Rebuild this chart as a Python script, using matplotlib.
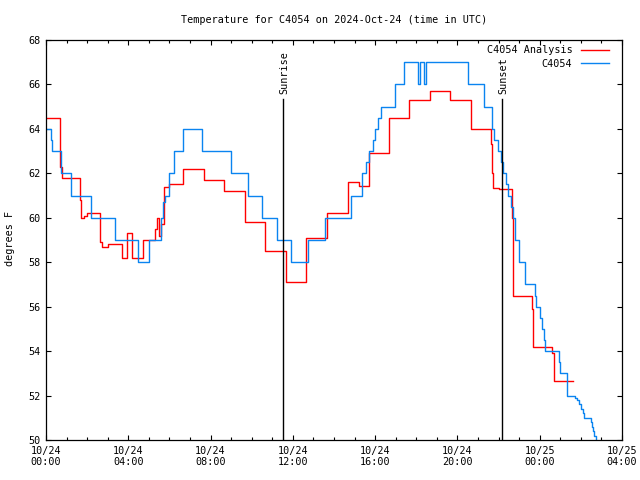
import matplotlib
matplotlib.use('Agg')
import matplotlib.pyplot as plt
from matplotlib.ticker import MultipleLocator

plt.rcParams['font.family'] = ['DejaVu Sans Mono']
plt.rcParams['font.size'] = 7.3

# observed temperature C4054 (hours since 10/24 00:00 UTC, degrees F), step changes
obs_hours = [0.0, 0.23, 0.3, 0.75, 1.2, 2.17, 3.33, 4.45, 5.0, 5.57, 5.68, 5.8, 6.0, 6.2,
             6.68, 7.6, 9.0, 9.84, 10.5, 11.25, 11.93, 12.75, 13.58, 14.83, 15.38, 15.55,
             15.72, 15.88, 16.0, 16.15, 16.3, 16.95, 17.4, 18.07, 18.18, 18.36, 18.48,
             20.5, 21.3, 21.66, 21.8, 21.98, 22.12, 22.2, 22.35, 22.45, 22.6, 22.68, 22.78,
             22.82, 22.98, 23.0, 23.3, 23.75, 23.82, 24.0, 24.1, 24.22, 24.27, 24.95, 25.0,
             25.33, 25.7, 25.8, 25.9, 26.0, 26.1, 26.17, 26.5, 26.55, 26.6, 26.65, 26.72]
obs_temps = [64.0, 63.5, 63.0, 62.0, 61.0, 60.0, 59.0, 58.0, 59.0, 60.0, 60.7, 61.0, 62.0, 63.0,
             64.0, 63.0, 62.0, 61.0, 60.0, 59.0, 58.0, 59.0, 60.0, 61.0, 62.0, 62.5,
             63.0, 63.5, 64.0, 64.5, 65.0, 66.0, 67.0, 66.0, 67.0, 66.0, 67.0,
             66.0, 65.0, 64.0, 63.5, 63.0, 62.5, 62.0, 61.5, 61.0, 60.5, 60.0, 59.5,
             59.0, 58.5, 58.0, 57.0, 56.5, 56.0, 55.5, 55.0, 54.5, 54.0, 53.5, 53.0,
             52.0, 51.9, 51.8, 51.6, 51.4, 51.2, 51.0, 50.8, 50.6, 50.4, 50.2, 50.0]

# analysis temperature C4054 Analysis
ana_hours = [0.0, 0.66, 0.7, 0.76, 1.67, 1.7, 1.85, 2.0, 2.64, 2.72, 3.03, 3.68, 3.95, 4.2,
             4.7, 5.3, 5.38, 5.48, 5.6, 5.72, 6.0, 6.68, 7.67, 8.67, 9.68, 10.67, 11.68,
             12.66, 13.68, 14.68, 15.2, 15.68, 16.66, 17.66, 18.66, 19.66, 20.65, 21.62,
             21.67, 21.71, 22.0, 22.64, 22.69, 22.72, 23.61, 23.66, 23.69, 24.61, 24.7, 25.6]
ana_temps = [64.5, 63.5, 62.3, 61.8, 60.8, 60.0, 60.1, 60.2, 58.9, 58.7, 58.8, 58.2, 59.3, 58.2,
             59.0, 59.5, 60.0, 59.2, 59.7, 61.4, 61.5, 62.2, 61.7, 61.2, 59.8, 58.5, 57.1,
             59.1, 60.2, 61.6, 61.45, 62.9, 64.5, 65.3, 65.7, 65.3, 64.0, 63.3,
             62.0, 61.35, 61.3, 60.0, 57.65, 56.5, 55.9, 54.8, 54.2, 53.9, 52.65, 52.65]

sunrise = 11.53
sunset = 22.18
tick_hours = [0, 4, 8, 12, 16, 20, 24, 28]
tick_labels = ['10/24\n00:00', '10/24\n04:00', '10/24\n08:00', '10/24\n12:00',
               '10/24\n16:00', '10/24\n20:00', '10/25\n00:00', '10/25\n04:00']

fig = plt.figure(figsize=(6.4, 4.8), dpi=100)
ax = fig.add_axes([46/640, 40/480, 576/640, 400/480])

ax.plot(ana_hours, ana_temps, color='#ff0000', lw=1.0, drawstyle='steps-post', label='C4054 Analysis')
ax.plot(obs_hours, obs_temps, color='#0a84f0', lw=1.0, drawstyle='steps-post', label='C4054')

# sunrise / sunset markers
for t, name in [(sunrise, 'Sunrise'), (sunset, 'Sunset')]:
    ax.plot([t, t], [50, 65.33], color='black', lw=1.0)
    ax.annotate(name, xy=(t, 65.33), xytext=(1, 4), textcoords='offset points',
                rotation=90, ha='center', va='bottom')

ax.set_xlim(0, 28)
ax.set_ylim(50, 68)
ax.set_xticks(tick_hours)
ax.set_xticklabels(tick_labels)
ax.xaxis.set_minor_locator(MultipleLocator(1))
ax.yaxis.set_major_locator(MultipleLocator(2))
ax.tick_params(which='both', direction='in', top=True, right=True, width=0.8, pad=4)
ax.tick_params(which='major', length=3.5)
ax.tick_params(which='minor', length=2.5)
for s in ax.spines.values():
    s.set_linewidth(0.9)

ax.legend(loc='upper right', bbox_to_anchor=(1 - 6/576, 1 + 2/400), frameon=False,
          markerfirst=False, handlelength=2.8, borderaxespad=0.3, labelspacing=0.35,
          handletextpad=0.8)

fig.text(334/640, 1 - 20/480, 'Temperature for C4054 on 2024-Oct-24 (time in UTC)',
         ha='center', va='center')
fig.text(10/640, 1 - 238/480, 'degrees F', rotation=90, ha='center', va='center')

plt.savefig('out.png', dpi=100)
